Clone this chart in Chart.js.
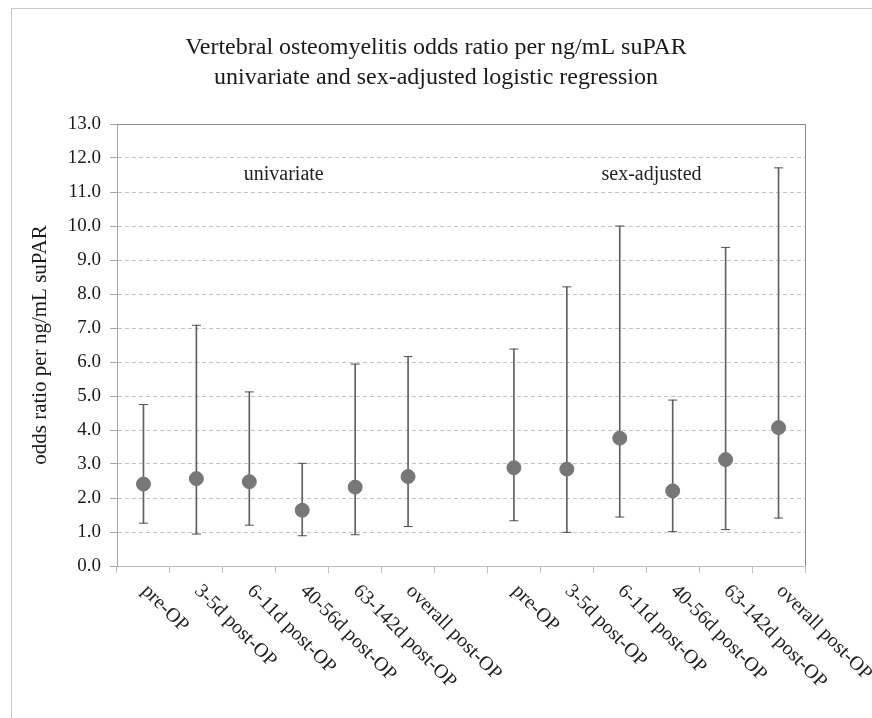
<!DOCTYPE html>
<html>
<head>
<meta charset="utf-8">
<script src="https://cdn.jsdelivr.net/npm/chart.js@4"></script>
<style>
  body { margin: 0; background: #fff; }
  canvas { display: block; }
</style>
</head>
<body>
<canvas id="chart" width="872" height="718"></canvas>
<script>
// categories (index 6 is the empty gap between the two groups)
var labels = ['pre-OP', '3-5d post-OP', '6-11d post-OP', '40-56d post-OP', '63-142d post-OP', 'overall post-OP', '',
              'pre-OP', '3-5d post-OP', '6-11d post-OP', '40-56d post-OP', '63-142d post-OP', 'overall post-OP'];

// odds ratios and 95% CI
var oddsRatio = [2.41, 2.57, 2.48, 1.64, 2.32, 2.63, null, 2.89, 2.85, 3.76, 2.21, 3.13, 4.07];
var ciLow     = [1.26, 0.94, 1.20, 0.89, 0.92, 1.16, null, 1.33, 0.99, 1.44, 1.01, 1.07, 1.41];
var ciHigh    = [4.75, 7.08, 5.12, 3.02, 5.94, 6.16, null, 6.38, 8.21, 10.0, 4.88, 9.37, 11.71];

var yTicks = [0, 1, 2, 3, 4, 5, 6, 7, 8, 9, 10, 11, 12, 13];

var serif = '"Liberation Serif", "Times New Roman", serif';

var ranges = ciLow.map(function(v, i) {
    return v === null ? null : [v, ciHigh[i]];
});

// extra drawing: outer frame, plot border, group captions, rotated category labels
var decorate = {
    id: 'decorate',
    beforeDraw: function(chart) {
        var ctx = chart.ctx;
        ctx.save();
        ctx.fillStyle = '#fff';
        ctx.fillRect(0, 0, chart.width, chart.height);
        ctx.strokeStyle = '#c8c8c8';
        ctx.lineWidth = 1;
        ctx.strokeRect(11.5, 8.5, 1000, 1000);
        ctx.restore();
    },
    afterDraw: function(chart) {
        var ctx = chart.ctx;
        var a = chart.chartArea;
        var x = chart.scales.x;
        var y = chart.scales.y;
        ctx.save();
        // top and right border of the plot
        ctx.strokeStyle = '#8a8a8a';
        ctx.lineWidth = 1;
        ctx.beginPath();
        ctx.moveTo(a.left, Math.round(a.top) + 0.5);
        ctx.lineTo(Math.round(a.right) + 0.5, Math.round(a.top) + 0.5);
        ctx.lineTo(Math.round(a.right) + 0.5, a.bottom);
        ctx.stroke();

        // group captions
        ctx.fillStyle = '#222';
        ctx.font = '20px ' + serif;
        ctx.textAlign = 'center';
        ctx.textBaseline = 'middle';
        ctx.fillText('univariate', x.getPixelForValue(2.65), y.getPixelForValue(11.5));
        ctx.fillText('sex-adjusted', x.getPixelForValue(9.6), y.getPixelForValue(11.5));

        // category labels turned 45 degrees downward
        ctx.textAlign = 'left';
        labels.forEach(function(lab, i) {
            if (!lab) return;
            ctx.save();
            ctx.translate(x.getPixelForValue(i) + 1, a.bottom + 22);
            ctx.rotate(Math.PI / 4);
            ctx.fillText(lab, 0, 0);
            ctx.restore();
        });
        ctx.restore();
    }
};

new Chart(document.getElementById('chart'), {
    data: {
        labels: labels,
        datasets: [
            {
                type: 'line',
                label: 'odds ratio',
                data: oddsRatio,
                showLine: false,
                pointRadius: 7,
                pointBackgroundColor: '#777777',
                pointBorderColor: '#777777',
                pointBorderWidth: 1,
                order: 0
            },
            {
                type: 'line',
                label: 'upper',
                data: ciHigh,
                showLine: false,
                pointStyle: 'line',
                pointRadius: 4.5,
                pointBorderColor: '#505050',
                pointBorderWidth: 1,
                order: 1
            },
            {
                type: 'line',
                label: 'lower',
                data: ciLow,
                showLine: false,
                pointStyle: 'line',
                pointRadius: 4.5,
                pointBorderColor: '#505050',
                pointBorderWidth: 1,
                order: 1
            },
            {
                type: 'bar',
                label: 'CI',
                data: ranges,
                backgroundColor: '#606060',
                barThickness: 1,
                order: 2
            }
        ]
    },
    options: {
        responsive: false,
        animation: false,
        layout: { padding: 0 },
        plugins: {
            legend: { display: false },
            tooltip: { enabled: false },
            title: {
                display: true,
                text: ['Vertebral osteomyelitis odds ratio per ng/mL suPAR',
                       'univariate and sex-adjusted logistic regression'],
                color: '#1a1a1a',
                font: { family: serif, size: 24, weight: 'normal', lineHeight: 1.25 },
                padding: { top: 33, bottom: 31 }
            }
        },
        scales: {
            x: {
                type: 'category',
                offset: true,
                grid: {
                    offset: true,
                    drawOnChartArea: false,
                    drawTicks: true,
                    tickLength: 7,
                    tickColor: '#bdbdbd'
                },
                border: { color: '#bdbdbd' },
                ticks: { display: false },
                afterFit: function(scale) { scale.height = 152; }
            },
            y: {
                min: 0,
                max: 13,
                afterBuildTicks: function(scale) {
                    scale.ticks = yTicks.map(function(v) { return { value: v }; });
                },
                ticks: {
                    color: '#1a1a1a',
                    padding: 9,
                    font: { family: serif, size: 19 },
                    callback: function(v) { return Number(v).toFixed(1); }
                },
                grid: {
                    color: '#c4c4c4',
                    tickLength: 7,
                    tickColor: '#a8a8a8',
                    tickBorderDash: []
                },
                border: { color: '#a8a8a8', dash: [4, 3] },
                title: {
                    display: true,
                    text: 'odds ratio per ng/mL suPAR',
                    color: '#1a1a1a',
                    font: { family: serif, size: 21 },
                    padding: { top: 28, bottom: 0 }
                },
                afterFit: function(scale) { scale.width = 117; }
            },
            // empty right-hand axis that only reserves the space right of the plot
            yPad: {
                position: 'right',
                min: 0,
                max: 13,
                grid: { display: false, drawTicks: false },
                border: { display: false },
                ticks: { display: false },
                afterFit: function(scale) { scale.width = 67; }
            }
        }
    },
    plugins: [decorate]
});
</script>
</body>
</html>
